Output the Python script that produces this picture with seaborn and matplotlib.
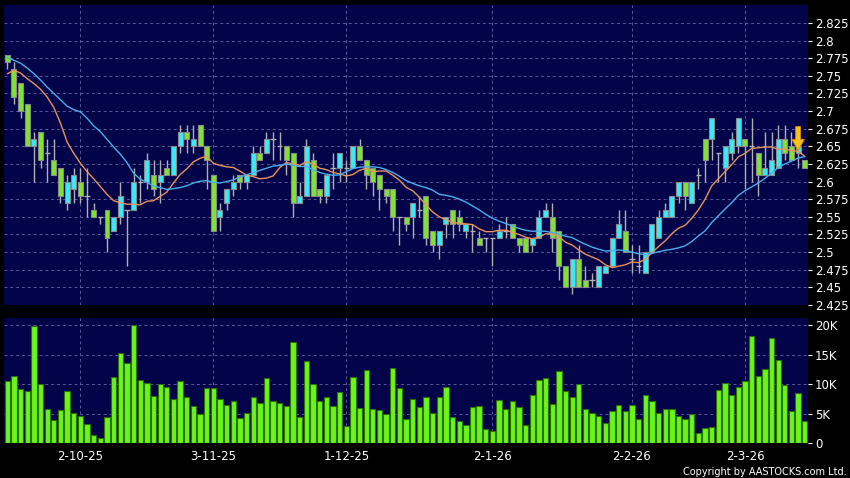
import numpy as np, pandas as pd
import seaborn as sns
import matplotlib
matplotlib.use("Agg")
import matplotlib.pyplot as plt
from matplotlib.patches import FancyArrow

sns.set_style("dark")
plt.rcParams['font.family'] = ['DejaVu Sans']

# daily candles
opens = [2.78, 2.76, 2.74, 2.71, 2.65, 2.67, 2.64, 2.63, 2.62, 2.57,
         2.59, 2.60, 2.58, 2.56, 2.55, 2.56, 2.53, 2.55, 2.56, 2.56,
         2.60, 2.60, 2.61, 2.60, 2.62, 2.61, 2.65, 2.67, 2.65, 2.68,
         2.65, 2.61, 2.55, 2.57, 2.59, 2.61, 2.60, 2.61, 2.64, 2.64,
         2.66, 2.65, 2.65, 2.64, 2.57, 2.58, 2.63, 2.59, 2.58, 2.62,
         2.62, 2.62, 2.62, 2.65, 2.63, 2.62, 2.61, 2.59, 2.59, 2.55,
         2.55, 2.55, 2.56, 2.58, 2.53, 2.51, 2.54, 2.56, 2.55, 2.53,
         2.53, 2.52, 2.52, 2.52, 2.52, 2.53, 2.54, 2.52, 2.52, 2.51,
         2.52, 2.55, 2.55, 2.53, 2.48, 2.45, 2.49, 2.46, 2.46, 2.45,
         2.47, 2.48, 2.52, 2.53, 2.49, 2.48, 2.47, 2.50, 2.52, 2.55,
         2.55, 2.58, 2.60, 2.57, 2.61, 2.66, 2.66, 2.64, 2.62, 2.64,
         2.65, 2.66, 2.65, 2.64, 2.61, 2.61, 2.62, 2.66, 2.65, 2.64,
         2.63]
highs = [2.78, 2.77, 2.74, 2.71, 2.67, 2.67, 2.66, 2.66, 2.62, 2.61,
         2.62, 2.62, 2.62, 2.57, 2.55, 2.56, 2.55, 2.60, 2.56, 2.62,
         2.61, 2.64, 2.63, 2.63, 2.63, 2.65, 2.68, 2.68, 2.68, 2.68,
         2.65, 2.61, 2.57, 2.59, 2.61, 2.61, 2.61, 2.65, 2.65, 2.67,
         2.67, 2.67, 2.65, 2.64, 2.60, 2.66, 2.64, 2.59, 2.61, 2.64,
         2.64, 2.63, 2.65, 2.66, 2.63, 2.62, 2.61, 2.59, 2.59, 2.55,
         2.55, 2.57, 2.58, 2.58, 2.53, 2.53, 2.55, 2.56, 2.56, 2.54,
         2.54, 2.53, 2.52, 2.52, 2.54, 2.55, 2.54, 2.52, 2.52, 2.52,
         2.56, 2.57, 2.57, 2.53, 2.48, 2.49, 2.51, 2.48, 2.47, 2.48,
         2.48, 2.52, 2.56, 2.56, 2.51, 2.51, 2.50, 2.54, 2.56, 2.57,
         2.58, 2.60, 2.60, 2.60, 2.62, 2.66, 2.69, 2.64, 2.65, 2.67,
         2.69, 2.66, 2.69, 2.64, 2.67, 2.67, 2.68, 2.68, 2.67, 2.66,
         2.63]
lows = [2.76, 2.71, 2.69, 2.65, 2.60, 2.62, 2.60, 2.61, 2.57, 2.56,
        2.57, 2.57, 2.55, 2.55, 2.54, 2.50, 2.53, 2.54, 2.48, 2.56,
        2.57, 2.59, 2.58, 2.57, 2.61, 2.61, 2.64, 2.64, 2.64, 2.65,
        2.59, 2.53, 2.53, 2.56, 2.58, 2.59, 2.59, 2.61, 2.63, 2.64,
        2.63, 2.63, 2.61, 2.55, 2.57, 2.58, 2.58, 2.57, 2.57, 2.59,
        2.60, 2.60, 2.62, 2.63, 2.59, 2.58, 2.56, 2.57, 2.53, 2.51,
        2.53, 2.52, 2.55, 2.51, 2.50, 2.49, 2.52, 2.52, 2.53, 2.52,
        2.50, 2.51, 2.50, 2.48, 2.52, 2.52, 2.52, 2.50, 2.50, 2.50,
        2.52, 2.55, 2.50, 2.46, 2.45, 2.44, 2.45, 2.45, 2.45, 2.45,
        2.47, 2.48, 2.52, 2.50, 2.47, 2.47, 2.47, 2.50, 2.52, 2.55,
        2.55, 2.57, 2.56, 2.57, 2.59, 2.60, 2.63, 2.60, 2.60, 2.63,
        2.64, 2.59, 2.60, 2.58, 2.61, 2.61, 2.62, 2.63, 2.63, 2.62,
        2.62]
closes = [2.77, 2.72, 2.70, 2.65, 2.66, 2.63, 2.64, 2.61, 2.58, 2.60,
          2.61, 2.58, 2.58, 2.55, 2.55, 2.52, 2.55, 2.58, 2.56, 2.60,
          2.60, 2.63, 2.59, 2.61, 2.61, 2.65, 2.67, 2.66, 2.66, 2.65,
          2.63, 2.53, 2.56, 2.59, 2.60, 2.60, 2.61, 2.64, 2.63, 2.66,
          2.66, 2.65, 2.63, 2.57, 2.58, 2.65, 2.58, 2.58, 2.61, 2.62,
          2.64, 2.62, 2.65, 2.63, 2.61, 2.60, 2.59, 2.58, 2.55, 2.55,
          2.54, 2.57, 2.56, 2.52, 2.51, 2.53, 2.55, 2.54, 2.54, 2.54,
          2.53, 2.51, 2.52, 2.52, 2.53, 2.53, 2.52, 2.51, 2.50, 2.52,
          2.55, 2.56, 2.52, 2.48, 2.45, 2.49, 2.45, 2.45, 2.46, 2.48,
          2.48, 2.52, 2.54, 2.50, 2.49, 2.48, 2.50, 2.54, 2.55, 2.56,
          2.58, 2.60, 2.58, 2.60, 2.61, 2.63, 2.69, 2.64, 2.65, 2.66,
          2.69, 2.65, 2.65, 2.61, 2.62, 2.63, 2.66, 2.64, 2.63, 2.65,
          2.62]
# volume in thousands of shares
volume_k = [10.5, 11.4, 9.2, 8.9, 19.9, 10.1, 5.8, 3.9, 5.6, 8.9,
            5.2, 4.6, 3.2, 1.4, 0.9, 4.4, 11.3, 15.3, 13.7, 20.1,
            10.8, 10.2, 8.0, 10.1, 9.6, 7.5, 10.5, 7.9, 6.3, 5.0,
            9.4, 9.4, 7.5, 6.5, 7.2, 4.3, 5.1, 7.8, 6.8, 11.0,
            7.2, 6.8, 6.4, 17.1, 4.4, 14.0, 10.1, 7.1, 7.8, 6.4,
            8.7, 2.9, 11.3, 6.0, 12.5, 5.9, 5.6, 5.0, 12.7, 9.3,
            4.2, 7.5, 6.2, 7.8, 5.1, 7.9, 9.6, 4.4, 3.7, 3.1,
            6.2, 6.3, 2.5, 2.1, 7.3, 5.9, 7.1, 6.1, 3.1, 8.2,
            10.8, 11.0, 6.7, 12.3, 8.8, 7.8, 10.1, 5.8, 5.1, 4.7,
            3.5, 5.4, 6.5, 5.5, 6.5, 4.1, 8.2, 7.2, 5.1, 5.9,
            5.8, 4.6, 4.1, 4.9, 1.7, 2.6, 2.8, 9.0, 10.3, 8.2,
            9.5, 10.5, 18.2, 11.4, 12.6, 17.9, 14.2, 9.9, 5.4, 8.5,
            3.7]
# moving averages at the left edge (need history before the window)
ma10_head = [2.753, 2.758, 2.754, 2.746, 2.739, 2.731, 2.720, 2.705, 2.683]
ma20_head = [2.776, 2.772, 2.768, 2.761, 2.753, 2.744, 2.734, 2.725, 2.716, 2.707,
             2.702, 2.699, 2.690, 2.679, 2.671, 2.660, 2.649, 2.639, 2.627]
date_labels = ["2-10-25", "3-11-25", "1-12-25", "2-1-26", "2-2-26", "2-3-26"]
date_index = [11, 31, 51, 73, 94, 111]
signal_day = 119

df = pd.DataFrame({"o": opens, "h": highs, "l": lows, "c": closes, "v": volume_k})
df["i"] = np.arange(len(df))
ma10 = df["c"].rolling(10).mean()
ma10.iloc[:len(ma10_head)] = ma10_head
ma20 = df["c"].rolling(20).mean()
ma20.iloc[:len(ma20_head)] = ma20_head
df["ma10"], df["ma20"] = ma10, ma20

navy = "#03034a"
grid_kw = dict(color="#5a5a9a", lw=0.7, ls=(0, (3, 3)))

fig = plt.figure(figsize=(8.5, 4.78), dpi=100, facecolor="black")
ax = fig.add_axes([0.0047, 0.362, 0.946, 0.6275])
axv = fig.add_axes([0.0047, 0.0726, 0.946, 0.2614], sharex=ax)
n = len(df)

for a in (ax, axv):
    a.set_facecolor(navy)
    for s in a.spines.values():
        s.set_visible(False)
    a.grid(False)
    a.yaxis.tick_right()
    a.tick_params(axis="y", colors="white", labelsize=8.5, length=3, pad=2)
    for xi in date_index:
        a.axvline(xi, **grid_kw, zorder=0)

# price panel
yt = np.round(np.arange(2.425, 2.826, 0.025), 3)
for v in yt:
    ax.axhline(v, **grid_kw, zorder=0)
ax.set_yticks(yt)
ax.set_yticklabels([f"{v:g}" for v in yt])
ax.set_ylim(2.425, 2.8505)
ax.set_xlim(-0.5, n - 0.5)
ax.tick_params(axis="x", bottom=False, labelbottom=False)

ax.vlines(df["i"], df["l"], df["h"], color="#b0b0b0", lw=1, zorder=2)
up = df[df["c"] > df["o"]]
dn = df[df["c"] < df["o"]]
flat = df[df["c"] == df["o"]]
ax.bar(up["i"], up["c"] - up["o"], bottom=up["o"], width=0.75,
       color="#35ecf8", edgecolor="#8a8a8a", lw=0.8, zorder=3)
ax.bar(dn["i"], dn["o"] - dn["c"], bottom=dn["c"], width=0.75,
       color="#7fe52c", edgecolor="#8a8a8a", lw=0.8, zorder=3)
ax.hlines(flat["o"], flat["i"] - 0.4, flat["i"] + 0.4, color="#b0b0b0", lw=1, zorder=3)

sns.lineplot(data=df, x="i", y="ma10", ax=ax, color="#e8935c", lw=1, zorder=4)
sns.lineplot(data=df, x="i", y="ma20", ax=ax, color="#4aaeea", lw=1, zorder=4)
ax.set_xlabel("")
ax.set_ylabel("")

# signal arrow above the last-but-one candle
tip = max(opens[signal_day], closes[signal_day]) - 0.006
ax.add_patch(FancyArrow(signal_day, tip + 0.034, 0, -0.034, width=0.75,
                        head_width=1.9, head_length=0.016, length_includes_head=True,
                        color="#f6c21c", ec="#d08a00", lw=0.6, zorder=6))

# volume panel
for v in [5000, 10000, 15000, 20000]:
    axv.axhline(v, **grid_kw, zorder=0)
axv.bar(df["i"], df["v"] * 1000, width=0.8, color="#6af51a", edgecolor="#2e7000",
        lw=0.8, zorder=3)
axv.set_ylim(0, 21190)
axv.set_yticks([0, 5000, 10000, 15000, 20000])
axv.set_yticklabels(["0", "5K", "10K", "15K", "20K"])
axv.set_xticks(date_index)
axv.set_xticklabels(date_labels)
axv.tick_params(axis="x", colors="white", labelsize=8.5, length=3, pad=2)

fig.text(0.996, 0.002, "Copyright by AASTOCKS.com Ltd.", color="white",
         fontsize=7, ha="right", va="bottom")

fig.savefig("out.png", dpi=100, facecolor="black")
